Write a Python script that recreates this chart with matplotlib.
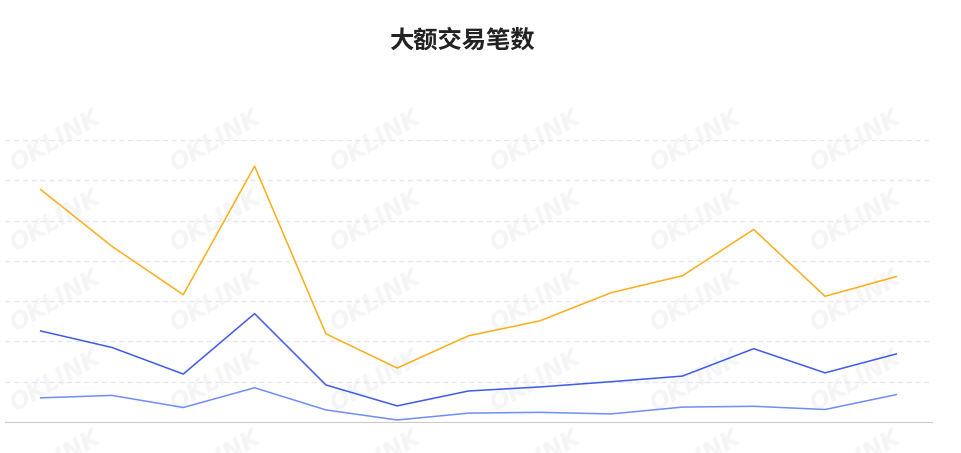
import matplotlib
matplotlib.use("Agg")
import matplotlib.pyplot as plt

plt.rcParams['font.family'] = ['Noto Sans CJK SC', 'DejaVu Sans']

# 数据
dates = ['06-01', '06-02', '06-03', '06-04', '06-05', '06-06', '06-07',
         '06-08', '06-09', '06-10', '06-11', '06-12', '06-13']
orange_vals = [2885, 2180, 1580, 3175, 1095, 670, 1070, 1255, 1605, 1815, 2390, 1560, 1805]
blue_vals = [1130, 925, 595, 1345, 460, 200, 385, 435, 500, 570, 910, 610, 845]
light_vals = [300, 330, 180, 425, 150, 25, 110, 120, 100, 185, 195, 155, 340]
y_ticks = [0, 500, 1000, 1500, 2000, 2500, 3000, 3500]

W, H = 962, 453
fig = plt.figure(figsize=(W / 100, H / 100), dpi=100)
ax = fig.add_axes([5 / W, 31 / H, 927 / W, 282 / H])
ax.set_facecolor('none')

# 水印
for cx in range(55, 962, 160):
    for cy in range(141, 520, 80):
        fig.text(cx / W, 1 - cy / H, 'OKLINK', fontsize=17, fontweight='bold',
                 fontstyle='italic', family='DejaVu Sans', color='#f5f5f5',
                 rotation=30, ha='center', va='center', zorder=-1)

x = list(range(len(dates)))
ax.plot(x, orange_vals, color='#FBAE1B', lw=1.1, zorder=3)
ax.plot(x, blue_vals, color='#3F5AEC', lw=1.1, zorder=3)
ax.plot(x, light_vals, color='#6F8DFB', lw=1.1, zorder=3)

ax.set_xlim(-0.5, len(dates) - 0.5)
ax.set_ylim(0, 3500)
ax.set_yticks(y_ticks)
ax.set_xticks(x)
ax.set_xticklabels([])
ax.set_yticklabels([])
ax.tick_params(length=0)
ax.grid(axis='y', color='#e6e6f2', linestyle=(0, (4, 3)), lw=0.9)
for s in ['top', 'right', 'left']:
    ax.spines[s].set_visible(False)
ax.spines['bottom'].set_color('#cccccc')
ax.spines['bottom'].set_zorder(4)

fig.text(462 / W, 1 - 41 / H, '大额交易笔数', fontsize=17.5, fontweight='bold',
         color='#222222', ha='center', va='center')

fig.savefig('out.png', dpi=100)
